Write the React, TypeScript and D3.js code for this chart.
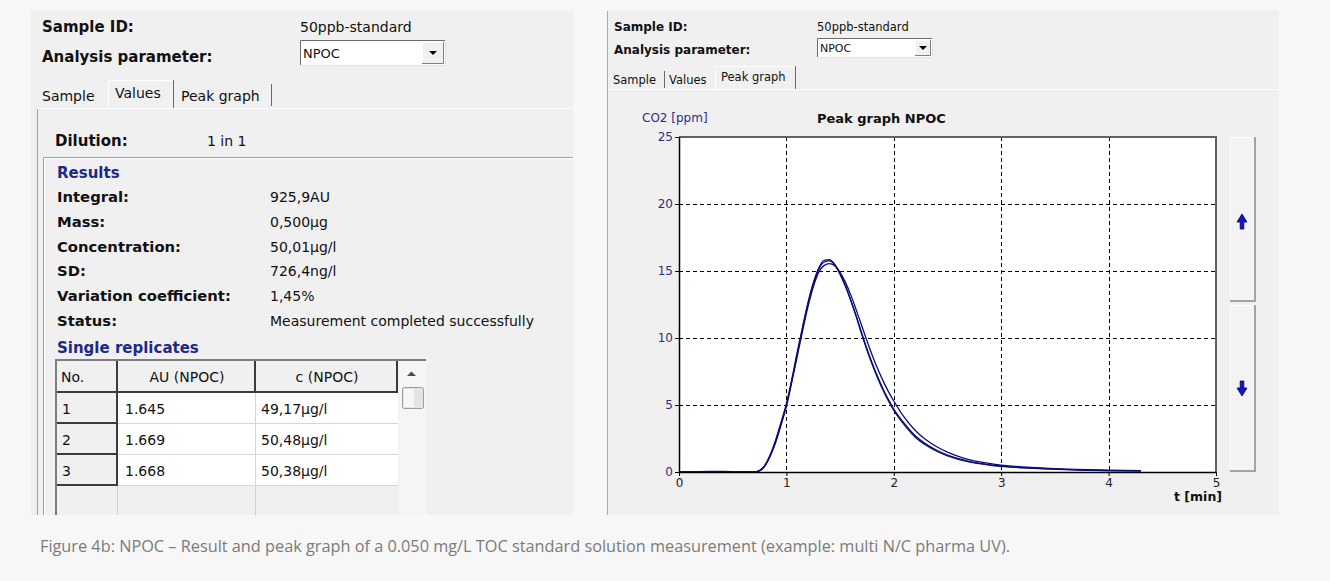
import React, { useEffect, useRef } from "react"
import * as d3 from "d3"

// peak graph data: time in minutes, three replicate traces in ppm CO2
const timeMin = [0, 0.3, 0.4, 0.7, 0.75, 0.8, 0.85, 0.9, 0.95, 1.0, 1.05, 1.1, 1.15, 1.2, 1.25, 1.3, 1.35, 1.4, 1.45, 1.5, 1.55, 1.6, 1.65, 1.7, 1.75, 1.8, 1.85, 1.9, 1.95, 2.0, 2.1, 2.2, 2.3, 2.4, 2.5, 2.6, 2.7, 2.8, 2.9, 3.0, 3.2, 3.4, 3.6, 3.8, 4.0, 4.3]
const rep1 = [0, 0.05, 0.05, 0, 0.1, 0.5, 1.3, 2.4, 3.7, 5.1, 6.9, 8.9, 10.8, 12.6, 14.1, 15.2, 15.8, 15.85, 15.5, 14.8, 13.9, 12.8, 11.6, 10.3, 9.1, 8.0, 7.0, 6.1, 5.3, 4.6, 3.5, 2.6, 2.0, 1.55, 1.2, 0.95, 0.76, 0.62, 0.5, 0.42, 0.31, 0.23, 0.17, 0.13, 0.1, 0.08]
const rep2 = [0, 0, 0, 0, 0.08, 0.45, 1.2, 2.2, 3.5, 4.9, 6.7, 8.6, 10.5, 12.3, 13.8, 14.9, 15.4, 15.55, 15.4, 14.9, 14.15, 13.2, 12.1, 10.95, 9.8, 8.7, 7.7, 6.8, 6.0, 5.3, 4.05, 3.1, 2.4, 1.88, 1.48, 1.17, 0.93, 0.75, 0.62, 0.52, 0.38, 0.29, 0.22, 0.17, 0.13, 0.1]
const rep3 = [0, 0, 0, 0, 0.1, 0.5, 1.25, 2.3, 3.6, 5.0, 6.8, 8.8, 10.7, 12.5, 14.0, 15.1, 15.65, 15.75, 15.45, 14.75, 13.85, 12.8, 11.65, 10.4, 9.2, 8.1, 7.1, 6.2, 5.4, 4.7, 3.6, 2.7, 2.08, 1.62, 1.27, 1.0, 0.8, 0.65, 0.53, 0.44, 0.33, 0.25, 0.19, 0.14, 0.11, 0.09]
const xTicks = [0, 1, 2, 3, 4, 5]
const yTicks = [0, 5, 10, 15, 20, 25]

// values tab
const resultLabels = ["Integral:", "Mass:", "Concentration:", "SD:", "Variation coefficient:", "Status:"]
const resultValues = ["925,9AU", "0,500µg", "50,01µg/l", "726,4ng/l", "1,45%", "Measurement completed successfully"]
const tableHeaders = ["No.", "AU (NPOC)", "c (NPOC)"]
const replicateNo = ["1", "2", "3"]
const replicateAU = ["1.645", "1.669", "1.668"]
const replicateConc = ["49,17µg/l", "50,48µg/l", "50,38µg/l"]

const UI = "'DejaVu Sans', Verdana, sans-serif"
const NAVY = "#1e2a86"
const TRACE = "#0c0c78"

const Dropdown = ({ x, y, w, h, size }: { x: number; y: number; w: number; h: number; size: number }) => {
  const bw = h - 4
  return (
    <g>
      <rect x={x} y={y} width={w} height={h} fill="#fff" />
      <path d={`M${x + 0.5},${y + h} V${y + 0.5} H${x + w}`} stroke="#6d6d6d" fill="none" />
      <path d={`M${x + w - 0.5},${y} V${y + h - 0.5} H${x}`} stroke="#e3e3e3" fill="none" />
      <text x={x + 3} y={y + h / 2 + size * 0.36} fontSize={size} fontFamily={UI} fill="#111">NPOC</text>
      <rect x={x + w - bw - 2} y={y + 2} width={bw} height={h - 4} fill="#f0f0f0" />
      <path d={`M${x + w - bw - 1.5},${y + h - 2} V${y + 2.5} H${x + w - 2}`} stroke="#fff" fill="none" />
      <path d={`M${x + w - 2.5},${y + 2} V${y + h - 2.5} H${x + w - bw - 2}`} stroke="#808080" fill="none" />
      <path
        d={`M${x + w - 2 - bw / 2 - 4},${y + h / 2 - 2} h8 l-4,4 z`}
        fill="#000"
      />
    </g>
  )
}

const ScrollButton = ({ x, y, w, h, up }: { x: number; y: number; w: number; h: number; up: boolean }) => {
  const cx = x + w / 2 - 1
  const cy = y + (up ? 85 : 83)
  const arrow = up
    ? `M${cx},${cy - 8} L${cx + 5},${cy} H${cx + 1.8} V${cy + 7} H${cx - 1.8} V${cy} H${cx - 5} Z`
    : `M${cx},${cy + 8} L${cx + 5},${cy} H${cx + 1.8} V${cy - 7} H${cx - 1.8} V${cy} H${cx - 5} Z`
  return (
    <g>
      <rect x={x} y={y} width={w} height={h} fill="#f3f3f3" />
      <path d={`M${x + 0.5},${y + h} V${y + 0.5} H${x + w}`} stroke="#fcfcfc" fill="none" />
      <path d={`M${x + w - 1},${y} V${y + h - 1} H${x}`} stroke="#a3a3a3" strokeWidth={2} fill="none" />
      <path d={arrow} fill="#1414c8" stroke="#00005a" strokeWidth={0.8} />
    </g>
  )
}

const PeakGraph = () => {
  const ref = useRef<SVGGElement | null>(null)

  useEffect(() => {
    if (!ref.current) return
    const g = d3.select(ref.current)
    g.selectAll("*").remove()

    const left = 679
    const right = 1216
    const top = 137
    const bottom = 472

    const x = d3.scaleLinear().domain([0, 5]).range([left, right])
    const y = d3.scaleLinear().domain([0, 25]).range([bottom, top])

    g.append("rect")
      .attr("x", left)
      .attr("y", top)
      .attr("width", right - left)
      .attr("height", bottom - top)
      .attr("fill", "#fff")

    // dashed grid
    g.append("g")
      .selectAll("line")
      .data(xTicks.filter((t) => t > 0 && t < 5))
      .join("line")
      .attr("x1", (d) => Math.round(x(d)) + 0.5)
      .attr("x2", (d) => Math.round(x(d)) + 0.5)
      .attr("y1", top)
      .attr("y2", bottom)
      .attr("stroke", "#000")
      .attr("stroke-dasharray", "4,3")

    g.append("g")
      .selectAll("line")
      .data(yTicks.filter((t) => t > 0 && t < 25))
      .join("line")
      .attr("x1", left)
      .attr("x2", right)
      .attr("y1", (d) => Math.round(y(d)) + 0.5)
      .attr("y2", (d) => Math.round(y(d)) + 0.5)
      .attr("stroke", "#000")
      .attr("stroke-dasharray", "4,3")

    // replicate traces
    const line = d3
      .line<number>()
      .x((_, i) => x(timeMin[i]))
      .y((d) => y(d))
      .curve(d3.curveMonotoneX)

    g.append("g")
      .selectAll("path")
      .data([rep2, rep3, rep1])
      .join("path")
      .attr("d", (d) => line(d))
      .attr("fill", "none")
      .attr("stroke", TRACE)
      .attr("stroke-width", 1.3)

    // frame top / right
    g.append("path")
      .attr("d", `M${left},${top} H${right} V${bottom}`)
      .attr("fill", "none")
      .attr("stroke", "#626262")
      .attr("stroke-width", 2)

    const yAxis = g
      .append("g")
      .attr("transform", `translate(${left},0)`)
      .call(d3.axisLeft(y).tickValues(yTicks).tickFormat(d3.format("d")).tickSize(4).tickSizeOuter(0).tickPadding(2))
    yAxis.select(".domain").attr("stroke", "#000").attr("stroke-width", 1.5)
    yAxis.selectAll(".tick line").attr("stroke", "#000")
    yAxis
      .selectAll(".tick text")
      .attr("fill", "#2d2d80")
      .attr("font-size", 12)
      .attr("font-family", UI)

    const xAxis = g
      .append("g")
      .attr("transform", `translate(0,${bottom})`)
      .call(d3.axisBottom(x).tickValues(xTicks).tickFormat(d3.format("d")).tickSize(4).tickSizeOuter(0).tickPadding(2))
    xAxis.select(".domain").attr("stroke", "#000").attr("stroke-width", 1.5)
    xAxis.selectAll(".tick line").attr("stroke", "#000")
    xAxis
      .selectAll(".tick text")
      .attr("fill", "#222")
      .attr("font-size", 12)
      .attr("font-family", UI)

    g.append("text")
      .attr("x", right + 6)
      .attr("y", bottom + 29)
      .attr("text-anchor", "end")
      .attr("font-size", 12.5)
      .attr("font-weight", "bold")
      .attr("font-family", UI)
      .attr("fill", "#111")
      .text("t [min]")
  }, [])

  return <g ref={ref} />
}

const App = () => {
  const rowY = (i: number) => 202 + i * 24.8
  const colX = [57, 118, 256, 398]
  const headTop = 361
  const headH = 32
  const rowH = 31

  return (
    <svg width={1330} height={581} style={{ position: "absolute", left: 0, top: 0 }}>
      <rect width={1330} height={581} fill="#f7f7f7" />

      {/* ---- left window: Values tab ---- */}
      <rect x={31} y={11} width={542} height={504} fill="#f0f0f0" />
      <g fontFamily={UI} fill="#111">
        <text x={42} y={32} fontSize={15} fontWeight="bold">Sample ID:</text>
        <text x={300} y={32} fontSize={14}>50ppb-standard</text>
        <text x={42} y={62} fontSize={15} fontWeight="bold">Analysis parameter:</text>
      </g>
      <Dropdown x={300} y={40} w={146} h={26} size={13} />

      {/* tabs */}
      <path d="M37,108.5 H573" stroke="#fff" />
      <path d="M108.5,108 V80.5 H173" stroke="#fff" fill="none" />
      <path d="M173.5,80 V108" stroke="#696969" />
      <path d="M271.5,84 V106" stroke="#696969" />
      <g fontFamily={UI} fontSize={14} fill="#111">
        <text x={42} y={101}>Sample</text>
        <text x={115} y={98}>Values</text>
        <text x={181} y={101}>Peak graph</text>
      </g>
      <path d="M37.5,515 V109" stroke="#a0a0a0" />

      <text x={55} y={146} fontFamily={UI} fontSize={15} fontWeight="bold" fill="#111">Dilution:</text>
      <text x={207} y={146} fontFamily={UI} fontSize={14} fill="#111">1 in 1</text>

      {/* results group box */}
      <path d="M43.5,515 V157.5 H573" stroke="#a0a0a0" fill="none" />
      <path d="M44.5,515 V158.5 H573" stroke="#fff" fill="none" />
      <text x={57} y={178} fontFamily={UI} fontSize={15} fontWeight="bold" fill={NAVY}>Results</text>
      <g fontFamily={UI} fill="#111">
        {resultLabels.map((l, i) => (
          <text key={l} x={57} y={rowY(i)} fontSize={14.8} fontWeight="bold">{l}</text>
        ))}
        {resultValues.map((v, i) => (
          <text key={v} x={270} y={rowY(i)} fontSize={14}>{v}</text>
        ))}
      </g>
      <text x={57} y={353} fontFamily={UI} fontSize={15} fontWeight="bold" fill={NAVY}>Single replicates</text>

      {/* replicate table */}
      <g>
        <rect x={colX[0]} y={headTop} width={colX[3] - colX[0]} height={515 - headTop} fill="#f0f0f0" />
        {replicateNo.map((_, i) => (
          <rect key={i} x={colX[1]} y={headTop + headH + i * rowH} width={colX[3] - colX[1]} height={rowH} fill="#fff" />
        ))}
        {/* header + no. cells with dark bevel */}
        {[0, 1, 2].map((c) => (
          <path
            key={c}
            d={`M${colX[c + 1] - 1},${headTop} V${headTop + headH - 1} H${colX[c]}`}
            stroke="#3c3c3c"
            strokeWidth={2}
            fill="none"
          />
        ))}
        {replicateNo.map((_, i) => (
          <path
            key={i}
            d={`M${colX[1] - 1},${headTop + headH + i * rowH} V${headTop + headH + (i + 1) * rowH - 1} H${colX[0]}`}
            stroke="#3c3c3c"
            strokeWidth={2}
            fill="none"
          />
        ))}
        {replicateNo.map((_, i) => (
          <path
            key={i}
            d={`M${colX[1]},${headTop + headH + (i + 1) * rowH - 0.5} H${colX[3]} M${colX[2] - 0.5},${headTop + headH + i * rowH} V${headTop + headH + (i + 1) * rowH}`}
            stroke="#d6d6d6"
            fill="none"
          />
        ))}
        <path d={`M${colX[2] - 0.5},${headTop + headH + 3 * rowH} V515 M${colX[1] - 0.5},${headTop + headH + 3 * rowH} V515`} stroke="#d0d0d0" />
        <path d={`M${colX[0] - 1},515 V${headTop - 1} H426`} stroke="#7e7e7e" strokeWidth={2} fill="none" />
        <g fontFamily={UI} fontSize={14} fill="#111">
          <text x={61} y={headTop + 21}>No.</text>
          <text x={(colX[1] + colX[2]) / 2} y={headTop + 21} textAnchor="middle">{tableHeaders[1]}</text>
          <text x={(colX[2] + colX[3]) / 2} y={headTop + 21} textAnchor="middle">{tableHeaders[2]}</text>
          {replicateNo.map((n, i) => (
            <text key={n} x={62} y={headTop + headH + i * rowH + 21}>{n}</text>
          ))}
          {replicateAU.map((v, i) => (
            <text key={v} x={colX[1] + 7} y={headTop + headH + i * rowH + 21}>{v}</text>
          ))}
          {replicateConc.map((v, i) => (
            <text key={v} x={colX[2] + 5} y={headTop + headH + i * rowH + 21}>{v}</text>
          ))}
        </g>
        {/* scrollbar */}
        <rect x={399} y={headTop} width={27} height={515 - headTop} fill="#f5f5f5" />
        <path d={`M407,${headTop + 15} h9 l-4.5,-4.5 z`} fill="#4a4a4a" />
        <rect x={402.5} y={headTop + 26.5} width={21} height={21} rx={2} fill="#e4e4e4" stroke="#9c9c9c" />
        <rect x={404} y={headTop + 28} width={10} height={18} fill="#f6f6f6" />
      </g>

      {/* ---- right window: Peak graph tab ---- */}
      <rect x={607} y={11} width={672} height={504} fill="#f0f0f0" />
      <path d="M607.5,11 V515" stroke="#a8a8a8" />
      <g fontFamily={UI} fill="#111">
        <text x={614} y={31} fontSize={12} fontWeight="bold">Sample ID:</text>
        <text x={817} y={31} fontSize={11.5}>50ppb-standard</text>
        <text x={614} y={54} fontSize={12} fontWeight="bold">Analysis parameter:</text>
      </g>
      <Dropdown x={817} y={38} w={116} h={20} size={11} />
      <path d="M608,89.5 H1279" stroke="#fff" />
      <path d="M715.5,89 V66.5 H795" stroke="#fff" fill="none" />
      <path d="M795.5,66 V89" stroke="#696969" />
      <path d="M664.5,71 V88" stroke="#696969" />
      <g fontFamily={UI} fontSize={11.5} fill="#111">
        <text x={613} y={84}>Sample</text>
        <text x={669} y={84}>Values</text>
        <text x={721} y={81}>Peak graph</text>
      </g>

      <text x={642} y={122} fontFamily={UI} fontSize={12} fill="#2d2d8a">CO2 [ppm]</text>
      <text x={817} y={123} fontFamily={UI} fontSize={13} fontWeight="bold" fill="#111">Peak graph NPOC</text>

      <PeakGraph />

      <ScrollButton x={1230} y={137} w={26} h={165} up={true} />
      <ScrollButton x={1230} y={305} w={26} h={167} up={false} />

      {/* caption */}
      <text
        x={40}
        y={552}
        fontFamily="'Liberation Sans Narrow', 'Open Sans', sans-serif"
        fontSize={17}
        fill="#7b7b7b"
        textLength={970}
        lengthAdjust="spacingAndGlyphs"
      >
        Figure 4b: NPOC – Result and peak graph of a 0.050 mg/L TOC standard solution measurement (example: multi N/C pharma UV).
      </text>
    </svg>
  )
}

export default App
